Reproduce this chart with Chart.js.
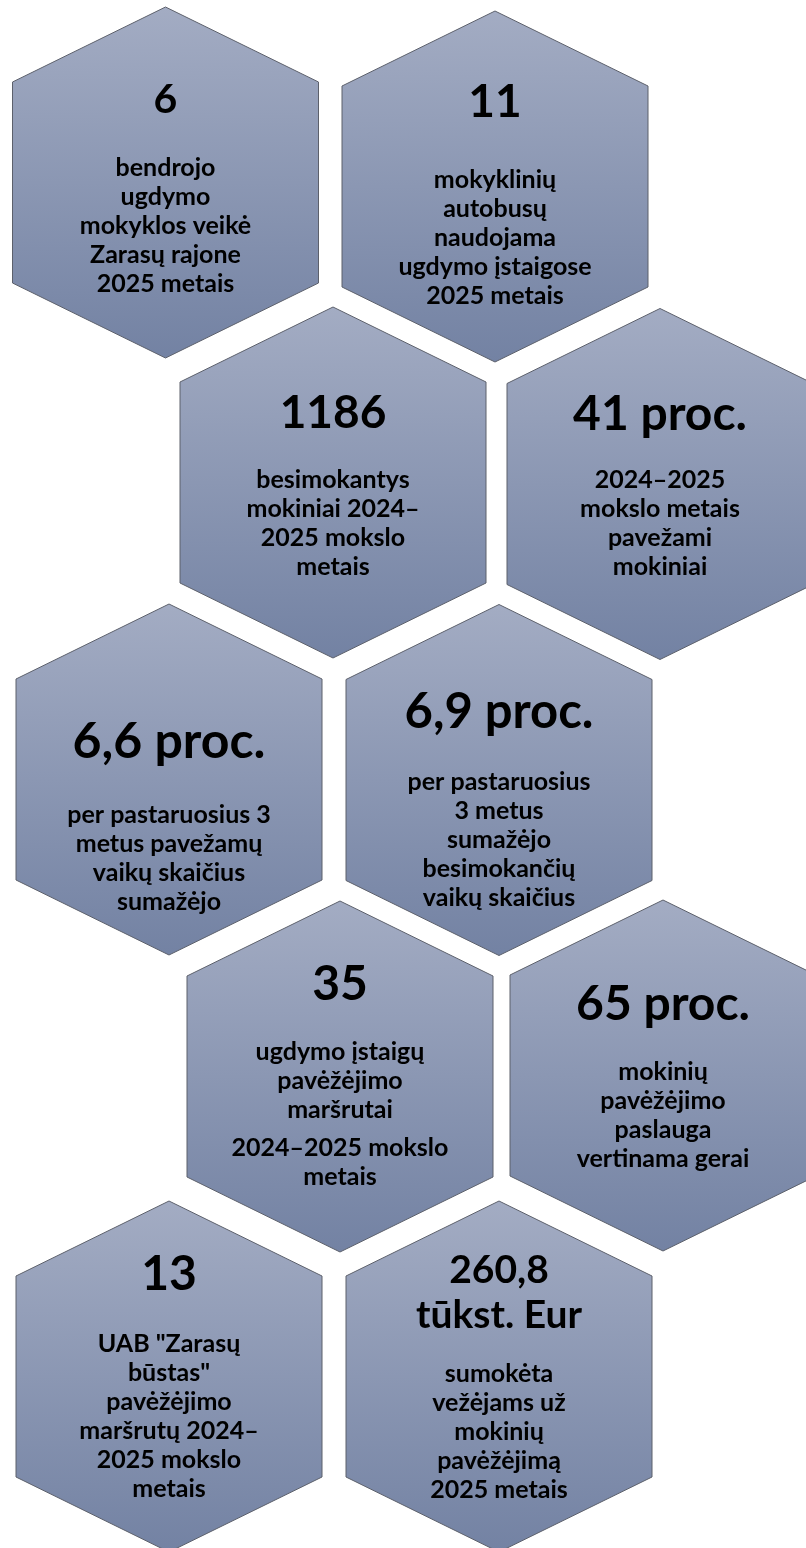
<!DOCTYPE html>
<html>
<head>
<meta charset="utf-8">
<script src="https://cdn.jsdelivr.net/npm/chart.js@4"></script>
<style>
  html, body { margin: 0; padding: 0; background: #ffffff; }
  #wrap { width: 806px; height: 1548px; }
  canvas { display: block; }
</style>
</head>
<body>
<div id="wrap"><canvas id="c" width="806" height="1548"></canvas></div>
<script>
// ---------- DATA ----------
const headlines = [
  ["6"],
  ["11"],
  ["1186"],
  ["41 proc."],
  ["6,6 proc."],
  ["6,9 proc."],
  ["35"],
  ["65 proc."],
  ["13"],
  ["260,8", "tūkst. Eur"]
];

const descriptions = [
  [["bendrojo", "ugdymo", "mokyklos veikė", "Zarasų rajone", "2025 metais"]],
  [["mokyklinių", "autobusų", "naudojama", "ugdymo įstaigose", "2025 metais"]],
  [["besimokantys", "mokiniai 2024–", "2025 mokslo", "metais"]],
  [["2024–2025", "mokslo metais", "pavežami", "mokiniai"]],
  [["per pastaruosius 3", "metus pavežamų", "vaikų skaičius", "sumažėjo"]],
  [["per pastaruosius", "3 metus", "sumažėjo", "besimokančių", "vaikų skaičius"]],
  [["ugdymo įstaigų", "pavėžėjimo", "maršrutai"], ["2024–2025 mokslo", "metais"]],
  [["mokinių", "pavėžėjimo", "paslauga", "vertinama gerai"]],
  [["UAB \"Zarasų", "būstas\"", "pavėžėjimo", "maršrutų 2024–", "2025 mokslo", "metais"]],
  [["sumokėta", "vežėjams už", "mokinių", "pavėžėjimą", "2025 metais"]]
];

// ---------- LAYOUT (positions / sizes / styles) ----------
const centers = [
  {x: 165.5, y: 182.5}, {x: 495, y: 186.5},
  {x: 333, y: 482.5},   {x: 660, y: 484},
  {x: 169, y: 779.5},   {x: 499, y: 780},
  {x: 340, y: 1076.5},  {x: 663, y: 1075.5},
  {x: 169, y: 1376.5},  {x: 499, y: 1376.5}
];
const textLayout = [
  {hy: -69.5, hs: 41, hl: 0,  dy: -6.5},
  {hy: -69.5, hs: 46, hl: 0,  dy: 1.5},
  {hy: -54.5, hs: 46, hl: 0,  dy: 5.5},
  {hy: -54,   hs: 48, hl: 0,  dy: 4},
  {hy: -21.5, hs: 50, hl: 0,  dy: 43.5},
  {hy: -52,   hs: 49, hl: 0,  dy: 10},
  {hy: -76.5, hs: 48, hl: 0,  dy: -16.5},
  {hy: -55.5, hs: 48, hl: 0,  dy: 4.5},
  {hy: -86.5, hs: 48, hl: 0,  dy: -24.5},
  {hy: -93.5, hs: 39, hl: 45, dy: 5.5}
];
const HEX = {halfW: 153, halfH: 175.5, shoulder: 75};
const DESC_SIZE = 25, DESC_STEP = 28.9, PARA_GAP = 9;
const FONT = 'Lato, "Open Sans", sans-serif';
const FILL_TOP = '#a3acc3', FILL_BOTTOM = '#7382a3', EDGE = '#5c606b';

const hexPlugin = {
  id: 'hexes',
  afterDatasetsDraw(chart) {
    const ctx = chart.ctx;
    const meta = chart.getDatasetMeta(0);
    meta.data.forEach((pt, i) => {
      const cx = pt.x, cy = pt.y;
      const top = cy - HEX.halfH, bot = cy + HEX.halfH;
      const s1 = top + HEX.shoulder, s2 = bot - HEX.shoulder;
      ctx.save();
      ctx.beginPath();
      ctx.moveTo(cx, top);
      ctx.lineTo(cx + HEX.halfW, s1);
      ctx.lineTo(cx + HEX.halfW, s2);
      ctx.lineTo(cx, bot);
      ctx.lineTo(cx - HEX.halfW, s2);
      ctx.lineTo(cx - HEX.halfW, s1);
      ctx.closePath();
      const g = ctx.createLinearGradient(0, top, 0, bot);
      g.addColorStop(0, FILL_TOP);
      g.addColorStop(1, FILL_BOTTOM);
      ctx.fillStyle = g;
      ctx.fill();
      ctx.lineWidth = 1;
      ctx.strokeStyle = EDGE;
      ctx.stroke();

      const L = textLayout[i];
      ctx.fillStyle = '#000000';
      ctx.textAlign = 'center';
      ctx.textBaseline = 'alphabetic';
      ctx.font = 'bold ' + L.hs + 'px ' + FONT;
      headlines[i].forEach((h, k) => ctx.fillText(h, cx, cy + L.hy + k * L.hl));

      ctx.font = 'bold ' + DESC_SIZE + 'px ' + FONT;
      let y = cy + L.dy;
      descriptions[i].forEach((para, p) => {
        if (p > 0) y += PARA_GAP;
        para.forEach(line => { ctx.fillText(line, cx, y); y += DESC_STEP; });
      });
      ctx.restore();
    });
  }
};

new Chart(document.getElementById('c'), {
  type: 'scatter',
  data: {
    datasets: [{
      data: centers,
      pointRadius: 0,
      pointHoverRadius: 0
    }]
  },
  options: {
    responsive: false,
    animation: false,
    events: [],
    layout: { padding: 0 },
    plugins: { legend: { display: false }, tooltip: { enabled: false } },
    scales: {
      x: { type: 'linear', min: 0, max: 806, display: false },
      y: { type: 'linear', min: 0, max: 1548, reverse: true, display: false }
    }
  },
  plugins: [hexPlugin]
});
</script>
</body>
</html>
